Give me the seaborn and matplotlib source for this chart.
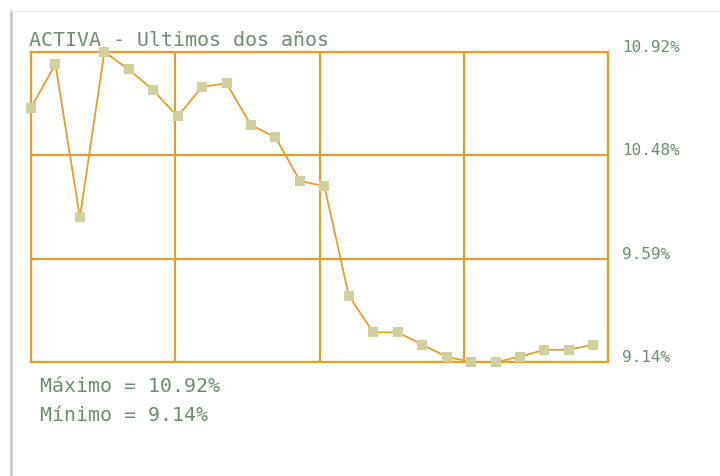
import matplotlib
matplotlib.use("Agg")
import matplotlib.pyplot as plt
import matplotlib.transforms as mtransforms
from matplotlib.lines import Line2D
import numpy as np
import pandas as pd
import seaborn as sns

# data (rate in %, last 24 months)
month = list(range(24))
rate = [10.60, 10.85, 9.97, 10.92, 10.82, 10.70, 10.55, 10.72, 10.74, 10.50,
        10.43, 10.18, 10.15, 9.52, 9.31, 9.31, 9.24, 9.17, 9.14, 9.14,
        9.17, 9.21, 9.21, 9.24]
y_min, y_max = 9.14, 10.92
tick_labels = ["9.14%", "9.59%", "10.48%", "10.92%"]
title = "ACTIVA - Ultimos dos años"
notes = ["Máximo = 10.92%", "Mínimo = 9.14%"]

orange = "#e0a030"
marker_col = "#cfd09c"
text_col = "#6f8c72"

sns.set_style("white")
plt.rcParams["font.family"] = ["DejaVu Sans Mono", "Liberation Mono"]

df = pd.DataFrame({"month": month, "rate": rate})

fig = plt.figure(figsize=(7.2, 4.76), dpi=100)
ax = fig.add_axes([31 / 720, 1 - 362 / 476, 577 / 720, 310 / 476])

sns.lineplot(data=df, x="month", y="rate", ax=ax, color=orange, linewidth=1.3,
             marker="s", markersize=7.5, markerfacecolor=marker_col,
             markeredgewidth=0, zorder=3, clip_on=False)

ax.set_xlim(0, 23.6)
ax.set_ylim(y_min, y_max)
ax.set_xticks(np.linspace(0, 23.6, 5))
ax.set_xticklabels([])
yt = np.linspace(y_min, y_max, 4)
ax.set_yticks(yt)
ax.set_yticklabels(tick_labels)
ax.yaxis.tick_right()
ax.tick_params(axis="both", length=0)
ax.tick_params(axis="y", pad=10, labelsize=11.5, labelcolor=text_col)
offset = mtransforms.ScaledTranslation(0, 6 / 100, fig.dpi_scale_trans)
for lab in ax.get_yticklabels():
    lab.set_transform(lab.get_transform() + offset)
ax.grid(True, color=orange, linewidth=1.6)
ax.set_axisbelow(True)
for s in ax.spines.values():
    s.set_color(orange)
    s.set_linewidth(1.6)
ax.set_xlabel("")
ax.set_ylabel("")

fig.text(29 / 720, 1 - 46 / 476, title, fontsize=14.4, color=text_col, va="baseline")
fig.text(40 / 720, 1 - 392 / 476, notes[0], fontsize=14.3, color=text_col, va="baseline")
fig.text(40 / 720, 1 - 421 / 476, notes[1], fontsize=14.3, color=text_col, va="baseline")

# card border
fig.add_artist(Line2D([11 / 720, 11 / 720], [0, 1 - 11 / 476], transform=fig.transFigure,
                      color="#c8c8c8", linewidth=2))
fig.add_artist(Line2D([11 / 720, 1], [1 - 11 / 476, 1 - 11 / 476], transform=fig.transFigure,
                      color="#ececec", linewidth=1))

fig.savefig("out.png", dpi=100)
